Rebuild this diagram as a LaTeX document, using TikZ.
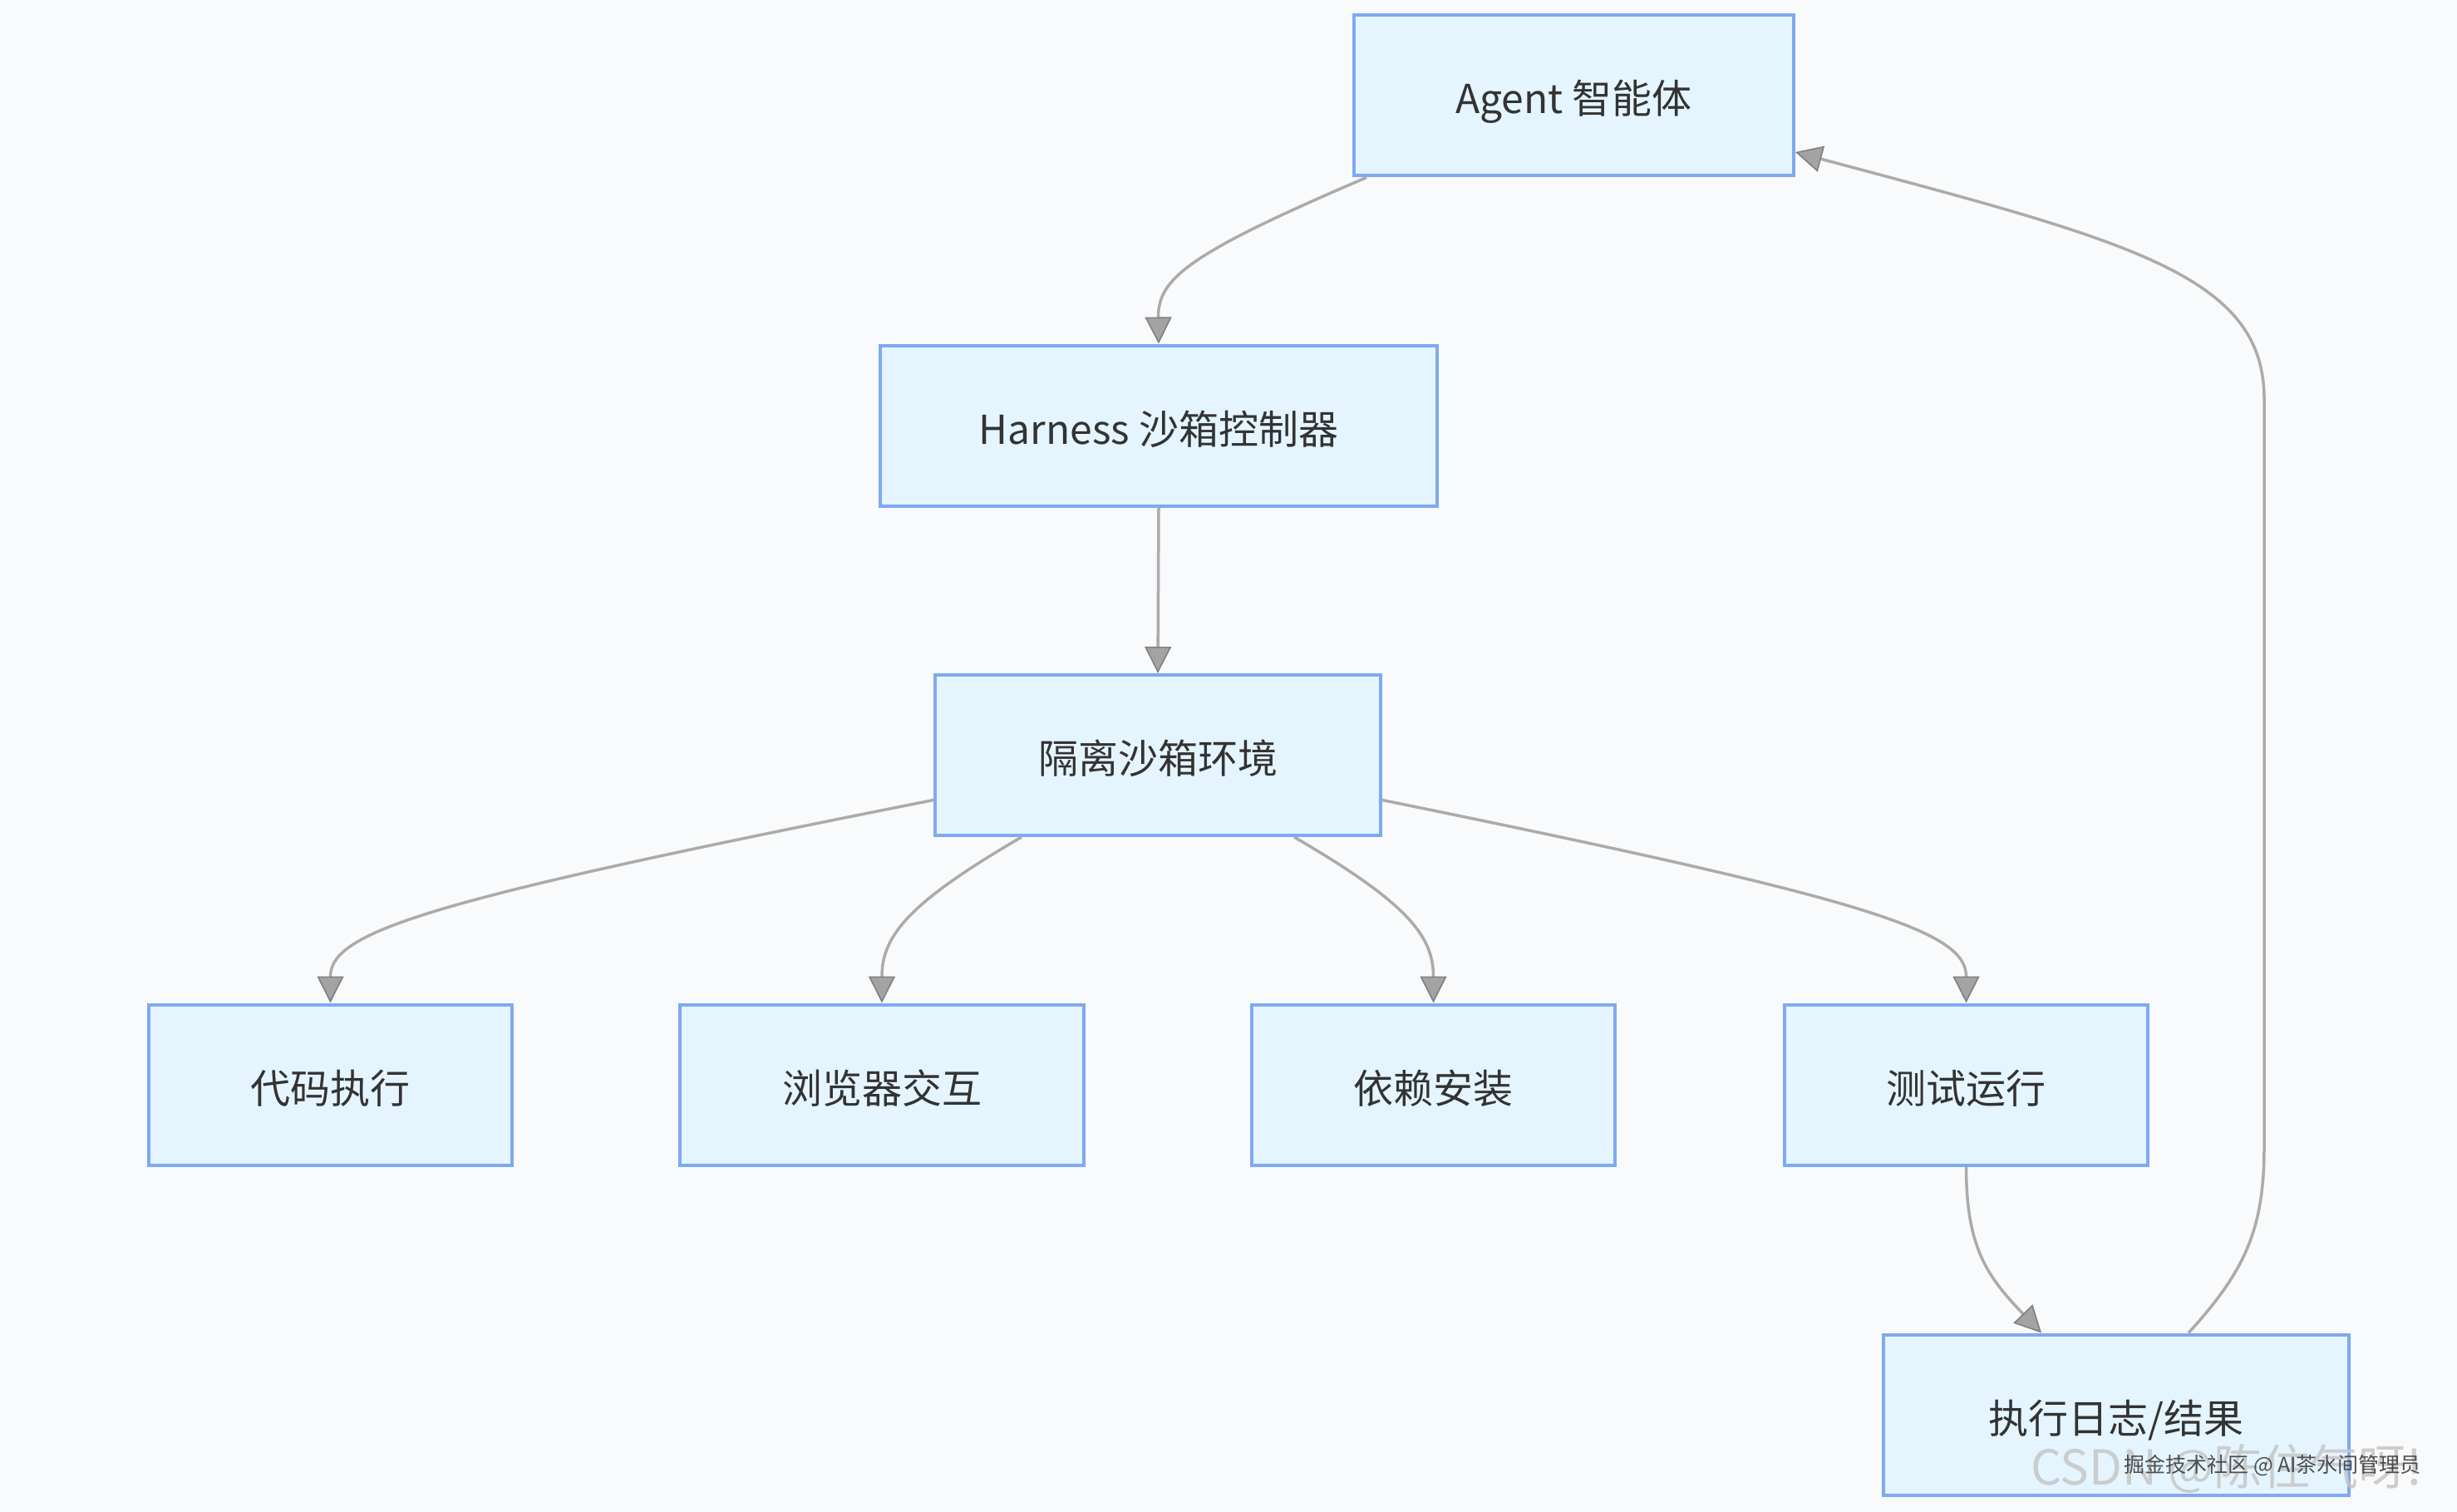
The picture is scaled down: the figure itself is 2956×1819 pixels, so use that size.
\documentclass[tikz,border=0pt]{standalone}
\usepackage{fontspec}
\setmainfont{Noto Sans CJK SC}
\usetikzlibrary{arrows.meta,calc}
\definecolor{bgc}{HTML}{F8FAFC}
\definecolor{boxfill}{HTML}{E5F5FF}
\definecolor{boxdraw}{HTML}{7EA9F3}
\definecolor{edgec}{HTML}{ABABAB}
\definecolor{tipfill}{HTML}{A3A3A3}
\definecolor{tipdraw}{HTML}{808080}
\definecolor{txt}{HTML}{333333}
\tikzset{
  box/.style={draw=boxdraw, fill=boxfill, line width=2pt, rectangle,
    minimum height=96.5pt, inner sep=0pt, text=txt, text height=26pt, text depth=4pt,
    font=\fontsize{24pt}{28pt}\selectfont},
  edge/.style={draw=edgec, line width=1.75pt,
    -{Triangle[length=16pt,width=16pt,fill=tipfill,color=tipdraw,line width=0.8pt]}},
}
\begin{document}
\begin{tikzpicture}[x=0.5pt,y=-0.5pt]
\fill[bgc] (0,0) rectangle (2956,1819);
\useasboundingbox (0,0) rectangle (2956,1819);

\node[box, minimum width=264.5pt] (agent) at (1893.5,115) {Agent 智能体};
\node[box, minimum width=335pt] (harness) at (1394,512) {Harness 沙箱控制器};
\node[box, minimum width=268pt] (env) at (1393,908.5) {隔离沙箱环境};
\node[box, minimum width=218.5pt] (code) at (397.5,1305) {代码执行};
\node[box, minimum width=243pt] (browser) at (1061,1305) {浏览器交互};
\node[box, minimum width=218.5pt] (deps) at (1724.5,1305) {依赖安装};
\node[box, minimum width=218.5pt] (test) at (2365.5,1305) {测试运行};
\node[box, minimum width=280pt] (log) at (2546,1702) {执行日志/结果};

\draw[edge] ([xshift=8.5pt]agent.south west) .. controls (1430,305) and (1393,335) .. (harness.north);
\draw[edge] (harness.south) -- (env.north);
\draw[edge] ([yshift=-27pt]env.west) .. controls (520,1082) and (397.5,1120) .. (code.north);
\draw[edge] ([xshift=-82pt]env.south) .. controls (1095,1085) and (1061,1125) .. (browser.north);
\draw[edge] ([xshift=82pt]env.south) .. controls (1691,1085) and (1724.5,1125) .. (deps.north);
\draw[edge] ([yshift=-27pt]env.east) .. controls (2250,1082) and (2365.5,1120) .. (test.north);
\draw[edge] (test.south) .. controls (2365.5,1500) and (2390,1535) .. ([xshift=-45pt]log.north);
\draw[edge] ([xshift=43.5pt]log.north) .. controls (2700,1530) and (2724,1480) .. (2724,1380)
   -- (2724,480) .. controls (2724,330) and (2560,290) .. ([yshift=-34pt]agent.east);

\node[anchor=west, text=gray!45, opacity=0.85, inner sep=0pt,
  font=\fontsize{29pt}{32pt}\selectfont] (wm1) at (2443,1767) {CSDN @陈住气呀!};
\node[anchor=west, text=txt, opacity=0.85, inner sep=0pt,
  font=\fontsize{12.5pt}{14pt}\selectfont] (wm2) at (2555,1763) {掘金技术社区 @ AI茶水间管理员};
\end{tikzpicture}
\end{document}
